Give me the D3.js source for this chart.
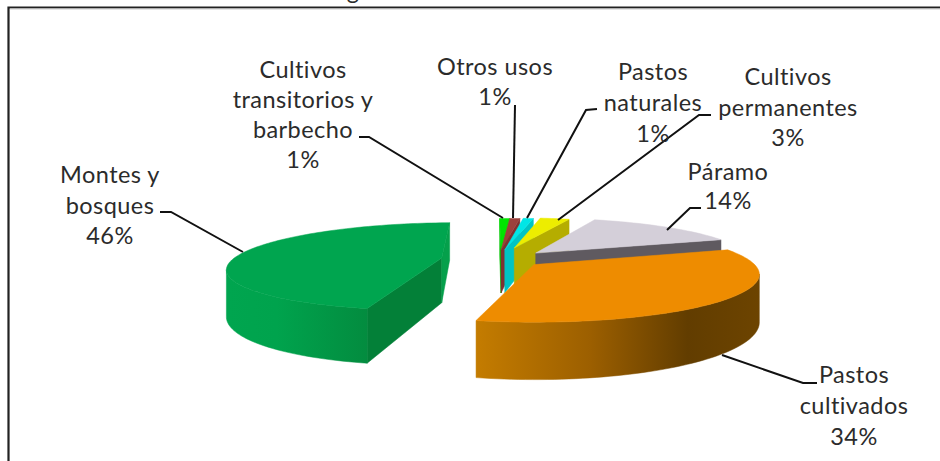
<!DOCTYPE html>
<html>
<head>
<meta charset="utf-8">
<script src="https://cdn.jsdelivr.net/npm/d3@7"></script>
<style>
html,body{margin:0;padding:0;background:#fff;overflow:hidden}
svg{display:block}
text{font-family:Lato,"Open Sans",sans-serif;font-size:23.5px;letter-spacing:0.45px;fill:#2b2b2b;text-anchor:middle}
</style>
</head>
<body>
<svg id="chart" width="940" height="461"></svg>
<script>
// ---- data ----
const categories = ["Cultivos transitorios y barbecho","Otros usos","Pastos naturales","Cultivos permanentes","Páramo","Pastos cultivados","Montes y bosques"];
const shares = [1,1,1,3,14,34,46];
const percentLabels = ["1%","1%","1%","3%","14%","34%","46%"];
const topColors = ["#00e600","#9c403c","#00e6e6","#eded00","#d4cfd9","#ee8c00","#00a54f"];
const startFaceColors = ["#00c400","#7e3230","#00c4c4","#b5ad00","#5f5a60","#a86400","#038038"];
const endFaceColors = ["#00c400","#7e3230","#00c4c4","#b5ad00","#5f5a60","#a86400","#05a04b"];

// ---- layout (not data) ----
const W = 940, H = 461;
const camera = {vx:530, y0:35, top:230, f:1100, depth:46};
const radii = [202,202,204,196,222,221,214];
const firstAngle = -2 * Math.PI / 180;
// how far each slice is pulled from the pie centre, on the ground plane
const explode = [[-31,-77],[-31,-77],[-27,-77],[-17,-88],[6,-60],[4,-2],[-91,-34]];
const labelLines = [
  ["Cultivos","transitorios y","barbecho","1%"],["Otros usos","1%"],["Pastos","naturales","1%"],
  ["Cultivos","permanentes","3%"],["Páramo","14%"],["Pastos","cultivados","34%"],["Montes y","bosques","46%"]];
const labelPos = [
  {x:303,y:78,dy:30},{x:495,y:75,dy:30},{x:653,y:80,dy:31},
  {x:788,y:85,dy:30.5},{x:728,y:180,dy:29},{x:854,y:383,dy:31},{x:110,y:183,dy:30.5}];
const leaders = [
  [[359,137],[369,137],[503,218]],[[515,105],[513,218]],[[597,109],[586,110],[527,218]],
  [[711,115],[699,115],[558,220]],[[701,208],[690,208],[667,230]],[[817,383],[803,383],[722,355]],
  [[160,212],[171,212],[243,252]]];
const rimStops = {
  5:{x1:476,x2:762,stops:[[0,"#c47c00"],[0.4,"#9c5f00"],[0.74,"#623d00"],[1,"#6d4400"]]},
  6:{x1:228,x2:367,stops:[[0,"#00a54f"],[0.35,"#00a34d"],[1,"#038c3f"]]}
};

const svg = d3.select("#chart");
const defs = svg.append("defs");
Object.entries(rimStops).forEach(([i,g])=>{
  const lg = defs.append("linearGradient").attr("id","rim"+i).attr("gradientUnits","userSpaceOnUse")
    .attr("x1",g.x1).attr("x2",g.x2).attr("y1",0).attr("y2",0);
  g.stops.forEach(s=>lg.append("stop").attr("offset",s[0]).attr("stop-color",s[1]));
});

function project(X, D, h){
  const s = camera.f / (camera.f - D);
  return [camera.vx + X*s, camera.y0 + (camera.top + h)*s];
}
const poly = d3.line();
const area = pts => d3.polygonArea(pts); // positive = counterclockwise on a y-down screen

const pie = d3.pie().sort(null).value(d=>d).startAngle(firstAngle).endAngle(firstAngle+2*Math.PI);
const arcs = pie(shares);

function rimPoint(i, a, h){
  const [ex,ed] = explode[i];
  return project(ex + radii[i]*Math.sin(a), ed - radii[i]*Math.cos(a), h);
}
function apexPoint(i, h){
  const [ex,ed] = explode[i];
  return project(ex, ed, h);
}

const g = svg.append("g");
arcs.forEach((d,i)=>{
  const a0=d.startAngle, a1=d.endAngle;
  const n=Math.max(4,Math.ceil((a1-a0)/(Math.PI/120)));
  const angles=d3.range(n+1).map(k=>a0+(a1-a0)*k/n);
  const slice=g.append("g").attr("class","slice").attr("data-name",categories[i]);
  const draw=(pts,fill)=>slice.append("path").attr("d",poly(pts)+"Z").attr("fill",fill).attr("stroke",fill).attr("stroke-width",0.5);

  const startQuad=[apexPoint(i,0),rimPoint(i,a0,0),rimPoint(i,a0,camera.depth),apexPoint(i,camera.depth)];
  const endQuad=[apexPoint(i,0),rimPoint(i,a1,0),rimPoint(i,a1,camera.depth),apexPoint(i,camera.depth)];
  let run=[];
  const runs=[];
  for(let k=0;k<n;k++){
    const q=[rimPoint(i,angles[k],0),rimPoint(i,angles[k+1],0),rimPoint(i,angles[k+1],camera.depth),rimPoint(i,angles[k],camera.depth)];
    if(area(q)>0){run.push(k);} else if(run.length){runs.push(run);run=[];}
  }
  if(run.length)runs.push(run);

  if(area(startQuad)>0) draw(startQuad,startFaceColors[i]);
  if(area(endQuad)<0) draw(endQuad,endFaceColors[i]);
  runs.forEach(r=>{
    const ks=[...r,r[r.length-1]+1];
    const pts=[...ks.map(k=>rimPoint(i,angles[k],0)),...ks.slice().reverse().map(k=>rimPoint(i,angles[k],camera.depth))];
    draw(pts,rimStops[i]?`url(#rim${i})`:startFaceColors[i]);
  });
  draw([apexPoint(i,0),...angles.map(a=>rimPoint(i,a,0))],topColors[i]);
});

svg.append("g").selectAll("path").data(leaders).join("path")
  .attr("d",d=>poly(d)).attr("fill","none").attr("stroke","#111").attr("stroke-width",2);

const lab=svg.append("g");
labelLines.forEach((lines,i)=>{
  const t=lab.append("text");
  lines.forEach((l,k)=>t.append("tspan").attr("x",labelPos[i].x).attr("y",labelPos[i].y+k*labelPos[i].dy).text(l));
});

svg.append("path").attr("d",poly([[8.5,461],[8.5,7.5],[940,7.5]])).attr("fill","none").attr("stroke","#222").attr("stroke-width",2.2);
svg.append("path").attr("d",poly([[10,9],[940,9]])).attr("fill","none").attr("stroke","#ccc").attr("stroke-width",1);
svg.append("text").attr("x",353).attr("y",-1).text("g");
</script>
</body>
</html>
